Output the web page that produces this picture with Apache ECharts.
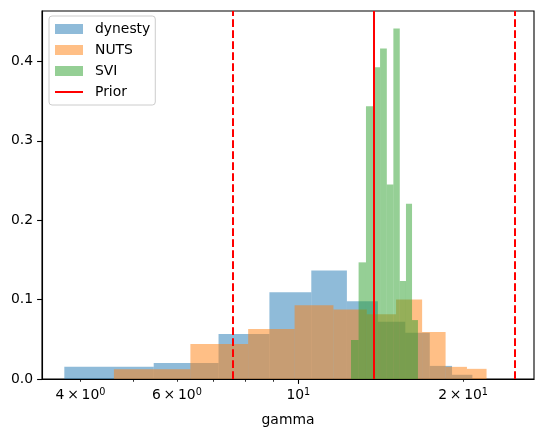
<!DOCTYPE html>
<html><head><meta charset="utf-8">
<script src="https://cdn.jsdelivr.net/npm/echarts@6/dist/echarts.min.js"></script>
<style>html,body{margin:0;padding:0;background:#fff}#chart{width:547px;height:437px}</style>
</head><body><div id="chart"></div>
<script>
// Histogram bin edges (gamma) and densities
const dynestyEdges = [3.737, 5.443, 7.149, 8.855, 10.561, 12.267, 13.973, 15.679, 17.385, 19.091, 20.797];
const dynestyDensity = [0.0153, 0.0203, 0.0566, 0.1093, 0.1368, 0.0980, 0.0720, 0.0583, 0.0165, 0.0053];
const nutsEdges = [4.604, 6.351, 8.098, 9.845, 11.592, 13.339, 15.086, 16.833, 18.580, 20.327, 22.074];
const nutsDensity = [0.0124, 0.0441, 0.0629, 0.0930, 0.0876, 0.0817, 0.1001, 0.0591, 0.0153, 0.0128];
const sviEdges = [12.480, 12.886, 13.292, 13.698, 14.104, 14.510, 14.916, 15.322, 15.728, 16.134, 16.540];
const sviDensity = [0.0491, 0.1469, 0.3436, 0.3925, 0.4163, 0.2450, 0.4414, 0.1234, 0.2208, 0.0742];
const priorMean = 13.73;
const priorBounds = [7.592, 24.86];
const xMajorTicks = [10];
const xMinorTicks = [4, 5, 6, 7, 8, 9, 20];
const xTickLabels = [4, 6, 10, 20];
const yTicks = [0, 0.1, 0.2, 0.3, 0.4];
const xRange = [3.402, 26.95];
const yRange = [0, 0.4635];

const FONT = 'DejaVu Sans';
function bins(edges, dens) {
  return dens.map((d, i) => [edges[i], edges[i + 1], d]);
}
function histSeries(name, edges, dens, color) {
  return {
    name: name, type: 'custom', xAxisIndex: 0, yAxisIndex: 0,
    itemStyle: { color: color },
    dimensions: ['x0', 'x1', 'h'],
    encode: { x: [0, 1], y: 2 },
    data: bins(edges, dens),
    animation: false,
    renderItem: function (params, api) {
      const p0 = api.coord([api.value(0), api.value(2)]);
      const p1 = api.coord([api.value(1), 0]);
      return {
        type: 'rect',
        shape: { x: p0[0], y: p0[1], width: p1[0] - p0[0], height: p1[1] - p0[1] },
        style: { fill: color }
      };
    }
  };
}
function sup(v) {
  const e = Math.floor(Math.log10(v) + 1e-9);
  const m = Math.round(v / Math.pow(10, e));
  return (m === 1 ? '{b|10}' : '{b|' + m + '\u2009\u00d7\u200910}') + '{s|' + e + '}';
}
const chart = echarts.init(document.getElementById('chart'), null, { renderer: 'canvas' });
const axisCommon = {
  type: 'log', logBase: 10, min: xRange[0], max: xRange[1], position: 'bottom',
  splitLine: { show: false }, minorTick: { show: false }
};
chart.setOption({
  backgroundColor: '#ffffff',
  animation: false,
  grid: { left: 42, right: 13, top: 11, bottom: 58, show: true, borderColor: '#000', borderWidth: 1.1, backgroundColor: 'transparent' },
  legend: {
    orient: 'vertical', left: 49, top: 16,
    itemWidth: 28, itemHeight: 10, itemGap: 7,
    padding: [6, 5, 6, 5],
    backgroundColor: 'rgba(255,255,255,0.8)',
    borderColor: '#cccccc', borderWidth: 1, borderRadius: 3,
    textStyle: { fontFamily: FONT, fontSize: 13.9, color: '#000', padding: [0, 0, 0, 7] },
    data: [
      { name: 'dynesty', icon: 'rect' },
      { name: 'NUTS', icon: 'rect' },
      { name: 'SVI', icon: 'rect' },
      { name: 'Prior', itemStyle: { opacity: 0 } }
    ]
  },
  xAxis: [
    Object.assign({}, axisCommon, {
      name: 'gamma', nameLocation: 'middle', nameGap: 34,
      nameTextStyle: { fontFamily: FONT, fontSize: 13.9, color: '#000' },
      axisLine: { show: true, lineStyle: { color: '#000', width: 1.1 } },
      axisTick: { show: true, length: 4.9, customValues: xMajorTicks, lineStyle: { color: '#000', width: 1.1 } },
      axisLabel: {
        show: true, margin: 8, customValues: xTickLabels, formatter: sup,
        rich: {
          b: { fontFamily: FONT, fontSize: 13.9, color: '#000', lineHeight: 17 },
          s: { fontFamily: FONT, fontSize: 9.7, color: '#000', verticalAlign: 'top', lineHeight: 10 }
        }
      }
    }),
    Object.assign({}, axisCommon, {
      axisLine: { show: false },
      axisTick: { show: true, length: 2.8, customValues: xMinorTicks, lineStyle: { color: '#000', width: 0.8 } },
      axisLabel: { show: false }
    })
  ],
  yAxis: {
    type: 'value', min: yRange[0], max: yRange[1],
    splitLine: { show: false },
    axisLine: { show: true, lineStyle: { color: '#000', width: 1.1 } },
    axisTick: { show: true, length: 4.9, customValues: yTicks, lineStyle: { color: '#000', width: 1.1 } },
    axisLabel: { show: true, margin: 9, customValues: yTicks, fontFamily: FONT, fontSize: 13.9, color: '#000', formatter: v => v.toFixed(1) }
  },
  series: [
    histSeries('dynesty', dynestyEdges, dynestyDensity, 'rgba(31,119,180,0.5)'),
    histSeries('NUTS', nutsEdges, nutsDensity, 'rgba(255,127,14,0.5)'),
    histSeries('SVI', sviEdges, sviDensity, 'rgba(44,160,44,0.5)'),
    {
      name: 'Prior', type: 'line', xAxisIndex: 0, yAxisIndex: 0, data: [], symbol: 'none',
      lineStyle: { color: '#ff0000', width: 2 }, itemStyle: { color: '#ff0000' },
      markLine: {
        silent: true, animation: false, symbol: ['none', 'none'], label: { show: false },
        lineStyle: { color: '#ff0000', width: 2, type: 'solid' },
        data: [
          { xAxis: priorMean },
          { xAxis: priorBounds[0], lineStyle: { type: [7.7, 3.3] } },
          { xAxis: priorBounds[1], lineStyle: { type: [7.7, 3.3] } }
        ]
      }
    }
  ]
});
</script></body></html>
